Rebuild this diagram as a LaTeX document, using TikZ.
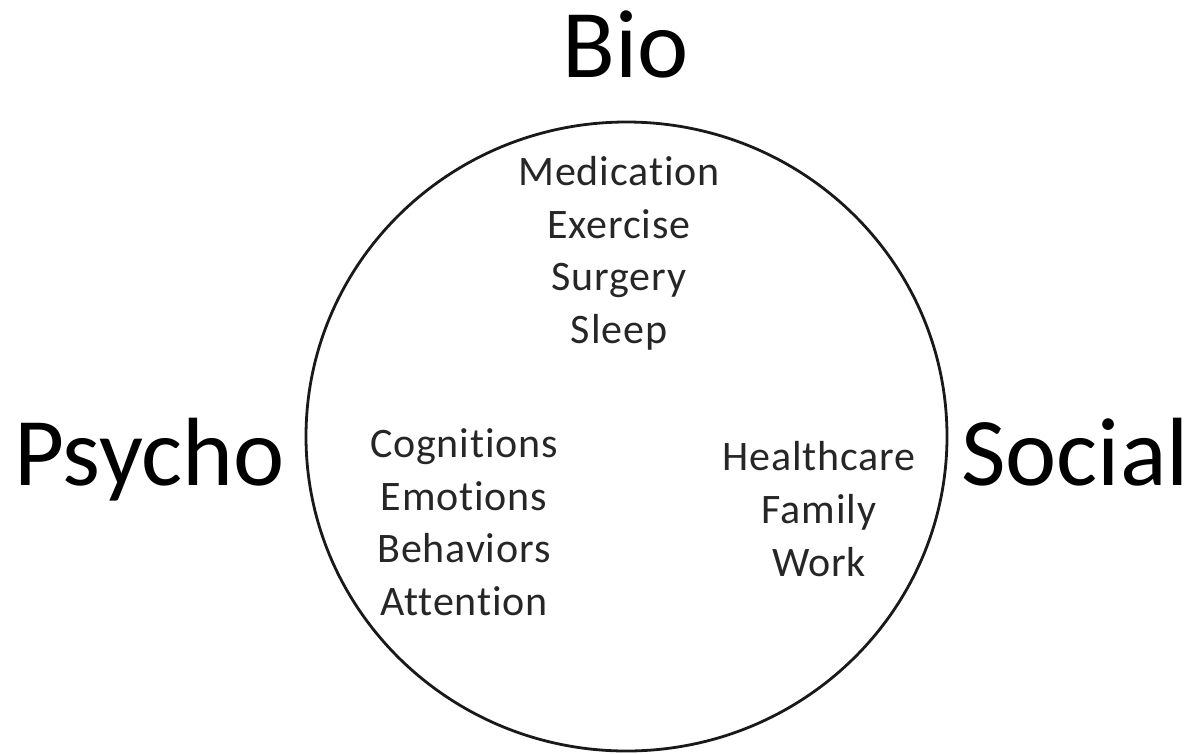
\documentclass[tikz,border=0pt]{standalone}
\usepackage{fontspec}
\setmainfont{Carlito}
\newfontfamily\itemfont[Ligatures=NoCommon,LetterSpace=2]{Carlito}
\begin{document}
\begin{tikzpicture}[x=1pt,y=-1pt,
  big/.style={inner sep=0pt,anchor=base,font=\fontsize{97}{97}\selectfont},
  item/.style={inner sep=0pt,anchor=base,font=\itemfont\fontsize{42}{42}\selectfont,text=black!85},
  ring/.style={draw=black!90,line width=2.8pt}]
  \useasboundingbox (0,0) rectangle (1189,753);

  % the ring
  \draw[ring] (626.5,436.5) ellipse [x radius=320.5, y radius=314.5];

  % headings
  \node[big] (bio) at (626,77) {Bio};
  \node[big,anchor=base east] (psycho) at (285,485) {Psycho};
  \node[big,anchor=base west] (social) at (961,485) {Social};

  % biological factors
  \node[item] (med) at (619,185) {Medication};
  \node[item] (exe) at (619,238) {Exercise};
  \node[item] (sur) at (619,290) {Surgery};
  \node[item] (sle) at (619,343) {Sleep};

  % psychological factors
  \node[item] (cog) at (464,457) {Cognitions};
  \node[item] (emo) at (464,510) {Emotions};
  \node[item] (beh) at (464,562) {Behaviors};
  \node[item] (att) at (464,615) {Attention};

  % social factors
  \node[item] (hea) at (819,470) {Healthcare};
  \node[item] (fam) at (819,523) {Family};
  \node[item] (wor) at (819,576) {Work};
\end{tikzpicture}
\end{document}
